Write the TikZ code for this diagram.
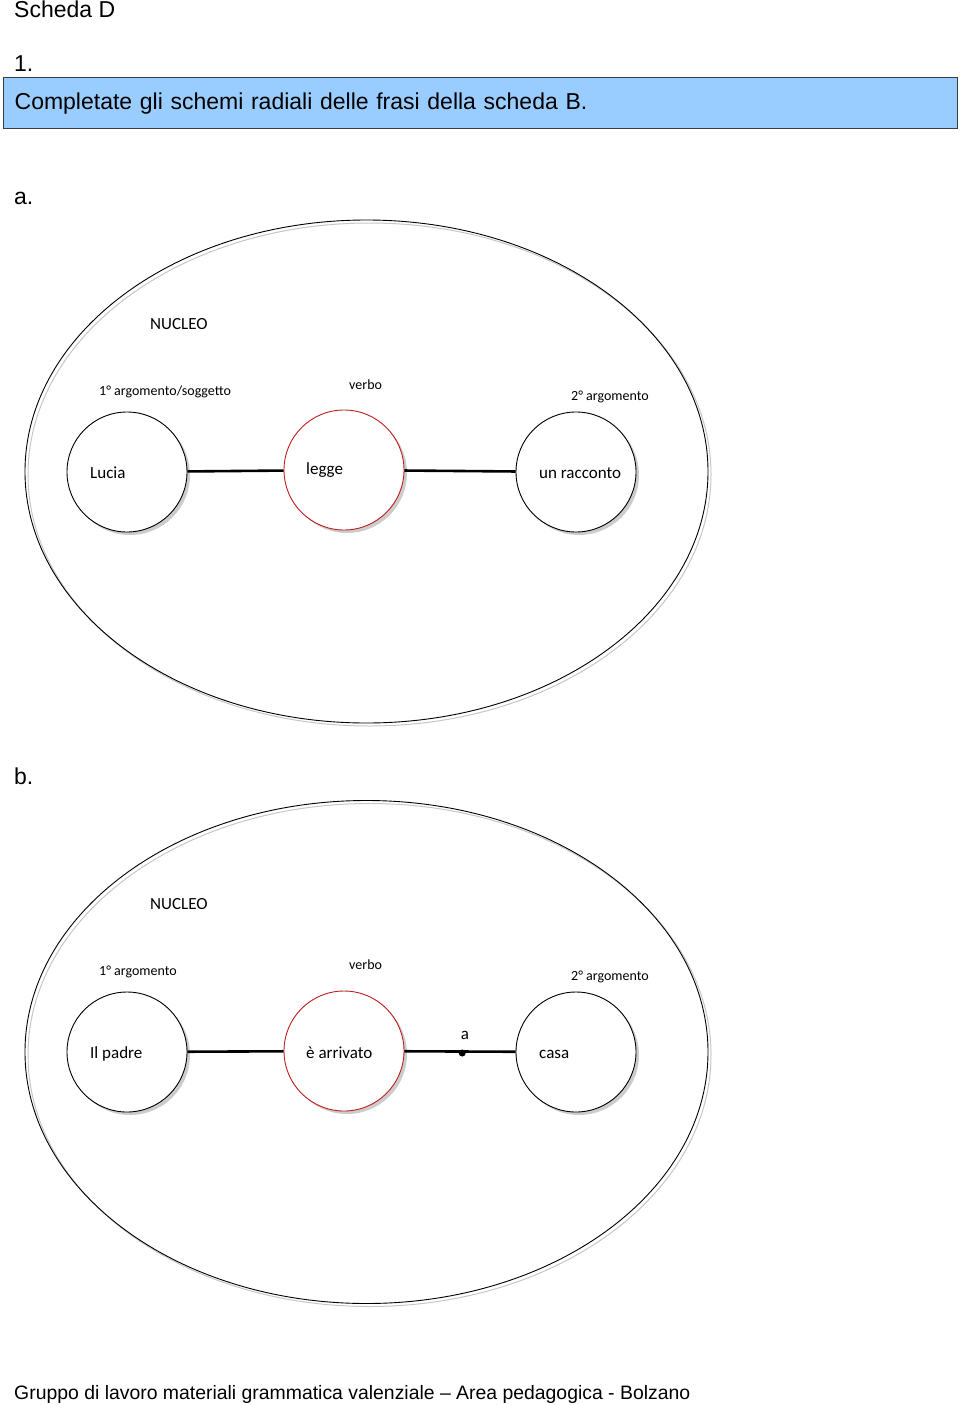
\documentclass[tikz,border=0pt]{standalone}
\usepackage{fontspec}
\setmainfont{Liberation Sans}
\newfontfamily\calfont{Carlito}
\usepackage{tikz}
\usetikzlibrary{positioning,shapes.geometric,shadows}
\definecolor{skBlue}{RGB}{153,204,255}
\definecolor{skFrame}{RGB}{60,60,60}
\definecolor{skRed}{RGB}{192,30,30}
\begin{document}
\begin{tikzpicture}[
  x=1pt, y=-1pt,
  head/.style={font=\fontsize{23}{27}\selectfont, anchor=base west, inner sep=0},
  nucleo/.style={ellipse, draw, line width=0.9pt, inner sep=0, minimum width=683pt, minimum height=503pt,
    drop shadow={shadow xshift=3pt, shadow yshift=-3pt, fill=none, draw=gray!45, line width=1pt, opacity=1}},
  circ/.style={circle, draw, line width=0.9pt, fill=white, inner sep=0, minimum size=120pt,
    drop shadow={shadow xshift=3pt, shadow yshift=-3pt, fill=gray!40, opacity=1}},
  verb/.style={circ, draw=skRed},
  link/.style={line width=2.6pt},
  lbl/.style={font=\calfont\fontsize{14}{16}\selectfont, anchor=base west, inner sep=0},
  word/.style={font=\calfont\fontsize{17}{20}\selectfont, anchor=base west, inner sep=0},
]
\useasboundingbox (0,0) rectangle (960,1405);
% header
\node[head] (title) at (14,18) {Scheda D};
\node[head] (num) at (14,71) {1.};
\node[draw=skFrame, line width=1.3pt, fill=skBlue, anchor=north west, minimum width=954pt, minimum height=51pt,
  text width=932pt, inner xsep=11pt, font=\fontsize{23}{27}\selectfont] (task) at (3,77)
  {Completate gli schemi radiali delle frasi della scheda B.};
% scheme a
\node[head] (la) at (14,204) {a.};
\begin{scope}
  \node[nucleo] (ellA) at (366.5,471.5) {};
  \node[word] (nucA) at (150,329) {NUCLEO};
  \node[circ] (lucia) at (127,472) {};
  \node[verb] (legge) at (344,470) {};
  \node[circ] (racc) at (576,472) {};
  \draw[link] (lucia) -- (legge);
  \draw[link] (legge) -- (racc);
  \node[lbl] (arg1A) at (99,395) {1° argomento/soggetto};
  \node[lbl] (verbA) at (349,389) {verbo};
  \node[lbl] (arg2A) at (571,400) {2° argomento};
  \node[word] (tLucia) at (90,478) {Lucia};
  \node[word] (tLegge) at (306,474) {legge};
  \node[word] (tRacc) at (539,478) {un racconto};
\end{scope}
% scheme b
\node[head] (lb) at (14,784) {b.};
\begin{scope}[shift={(0,580)}]
  \node[nucleo] (ellB) at (366.5,472) {};
  \node[word] (nucB) at (150,329) {NUCLEO};
  \node[circ] (padre) at (127,472) {};
  \node[verb] (arriv) at (344,471) {};
  \node[circ] (casa) at (576,472) {};
  \draw[link] (padre) -- (arriv);
  \draw[link] (arriv) -- node[circle, fill, inner sep=0, minimum size=7pt, pos=0.52, yshift=-1.5pt] (dot) {} (casa);
  \node[word, anchor=base] (prep) at (465,459) {a};
  \node[lbl] (arg1B) at (99,395) {1° argomento};
  \node[lbl] (verbB) at (349,389) {verbo};
  \node[lbl] (arg2B) at (571,400) {2° argomento};
  \node[word] (tPadre) at (90,478) {Il padre};
  \node[word] (tArriv) at (306,478) {è arrivato};
  \node[word] (tCasa) at (539,478) {casa};
\end{scope}
% footer
\node[head, font=\fontsize{19.4}{23}\selectfont] (foot) at (14,1399)
  {Gruppo di lavoro materiali grammatica valenziale -- Area pedagogica - Bolzano};
\end{tikzpicture}
\end{document}
